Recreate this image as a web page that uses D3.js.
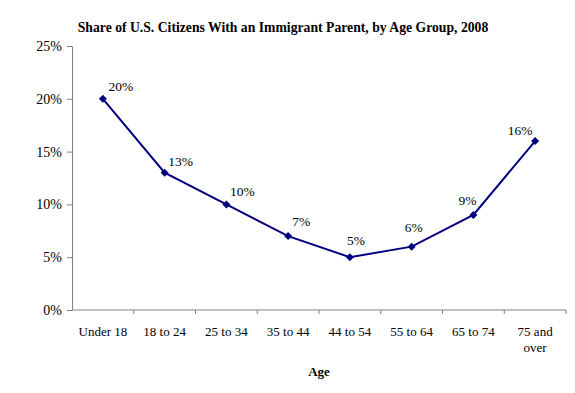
<!DOCTYPE html>
<html>
<head>
<meta charset="utf-8">
<script src="https://cdn.jsdelivr.net/npm/d3@7"></script>
<style>
  body { margin: 0; background: #fff; }
  text { font-family: "Liberation Serif", "Times New Roman", serif; fill: #000; }
</style>
</head>
<body>
<div id="chart"></div>
<script>
const ageGroups = ["Under 18", "18 to 24", "25 to 34", "35 to 44", "44 to 54", "55 to 64", "65 to 74", "75 and over"];
const shares = [20, 13, 10, 7, 5, 6, 9, 16];
const yTicks = [0, 5, 10, 15, 20, 25];
// label nudges (label centre relative to the point), tuned by eye
const labelDx = [18, 16, 16, 13, 6, 2, -6, -15];
const labelDy = [-12, -11, -13, -15, -17, -19, -14, -11];

const width = 575, height = 393;
const margin = {top: 46, right: 9, bottom: 83, left: 72};

const svg = d3.select("#chart").append("svg")
    .attr("width", width)
    .attr("height", height);

const x = d3.scaleBand()
    .domain(ageGroups)
    .range([margin.left, width - margin.right]);

const y = d3.scaleLinear()
    .domain([0, 25])
    .range([height - margin.bottom, margin.top]);

// title
svg.append("text")
    .attr("x", 283)
    .attr("y", 32)
    .attr("text-anchor", "middle")
    .style("font-weight", "bold")
    .style("font-size", "13.7px")
    .text("Share of U.S. Citizens With an Immigrant Parent, by Age Group, 2008");

// y axis
const yAxis = svg.append("g")
    .attr("transform", `translate(${margin.left},0)`)
    .call(d3.axisLeft(y).tickValues(yTicks).tickFormat(d => d + "%").tickSize(5).tickSizeOuter(0));
yAxis.selectAll("path, line").attr("stroke", "#808080");
yAxis.selectAll("text")
    .attr("x", -10)
    .style("font-size", "14px")
    .style("font-family", "Liberation Serif, serif");

// x axis, ticks at band edges
const xAxis = svg.append("g")
    .attr("transform", `translate(0,${y(0)})`);
xAxis.append("line")
    .attr("x1", margin.left).attr("x2", width - margin.right)
    .attr("stroke", "#808080");
xAxis.selectAll(".edge")
  .data(ageGroups)
  .join("line")
    .attr("class", "edge")
    .attr("x1", d => x(d) + x.bandwidth()).attr("x2", d => x(d) + x.bandwidth())
    .attr("y1", 0).attr("y2", 4)
    .attr("stroke", "#808080");

xAxis.selectAll(".xlab")
  .data(ageGroups)
  .join("text")
    .attr("class", "xlab")
    .attr("text-anchor", "middle")
    .style("font-size", "13px")
    .each(function(d) {
        const t = d3.select(this);
        const cx = x(d) + x.bandwidth() / 2;
        const parts = d === "75 and over" ? ["75 and", "over"] : [d];
        parts.forEach((p, i) => {
            t.append("tspan").attr("x", cx).attr("y", 26 + i * 16).text(p);
        });
    });

// axis title
svg.append("text")
    .attr("x", (margin.left + width - margin.right) / 2)
    .attr("y", 376)
    .attr("text-anchor", "middle")
    .style("font-weight", "bold")
    .style("font-size", "13px")
    .text("Age");

// line + markers
const pts = ageGroups.map((g, i) => ({g: g, v: shares[i], i: i}));
const line = d3.line()
    .x(d => x(d.g) + x.bandwidth() / 2)
    .y(d => y(d.v));

svg.append("path")
    .datum(pts)
    .attr("d", line)
    .attr("fill", "none")
    .attr("stroke", "#000080")
    .attr("stroke-width", 2);

svg.selectAll(".marker")
  .data(pts)
  .join("path")
    .attr("class", "marker")
    .attr("d", d3.symbol(d3.symbolSquare, 32))
    .attr("transform", d => `translate(${x(d.g) + x.bandwidth() / 2},${y(d.v)}) rotate(45)`)
    .attr("fill", "#000080");

svg.selectAll(".val")
  .data(pts)
  .join("text")
    .attr("class", "val")
    .attr("text-anchor", "middle")
    .attr("x", d => x(d.g) + x.bandwidth() / 2 + labelDx[d.i])
    .attr("y", d => y(d.v) + labelDy[d.i] + 4.5)
    .style("font-size", "13.5px")
    .text(d => d.v + "%");
</script>
</body>
</html>
